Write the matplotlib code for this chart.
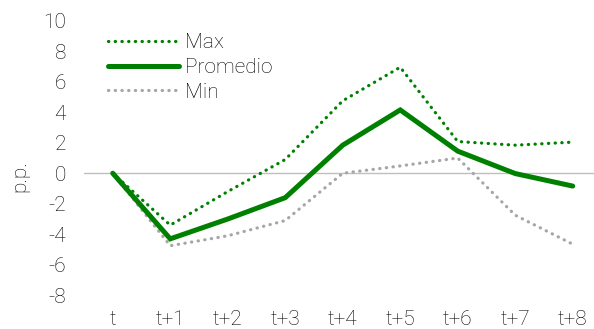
import matplotlib
matplotlib.use("Agg")
import matplotlib.pyplot as plt

categories = ["t", "t+1", "t+2", "t+3", "t+4", "t+5", "t+6", "t+7", "t+8"]
max_vals = [0, -3.4, -1.2, 0.9, 4.75, 6.95, 2.08, 1.84, 2.04]
prom_vals = [0, -4.3, -3.0, -1.6, 1.84, 4.15, 1.45, -0.02, -0.84]
min_vals = [0, -4.75, -4.1, -3.1, 0.0, 0.48, 1.0, -2.75, -4.65]
yticks = [10, 8, 6, 4, 2, 0, -2, -4, -6, -8]

plt.rcParams['font.family'] = ['Roboto', 'DejaVu Sans']
FS = 15
TXT = "#000000"
WT = "light"
W, H = 594, 329
fig = plt.figure(figsize=(W / 100, H / 100), dpi=100)
x0, x1 = -0.5, 8.37
left_px = 84
right_px = 594
y_top, y_bot = 10.5, -8.6
top_px = 20.7 - 0.5 * 15.25
bot_px = 295.3 + 0.6 * 15.25
ax = fig.add_axes([left_px / W, 1 - bot_px / H, (right_px - left_px) / W, (bot_px - top_px) / H])

xs = list(range(len(categories)))
ax.axhline(0, color="#bfbfbf", lw=1.0, zorder=1)
green = "#008000"
ax.plot(xs, max_vals, color=green, lw=2.3, linestyle=(0, (0.1, 2.0)),
        dash_capstyle="round", label="Max", zorder=3)
ax.plot(xs, prom_vals, color=green, lw=3.6, solid_capstyle="round",
        solid_joinstyle="miter", label="Promedio", zorder=4)
ax.plot(xs, min_vals, color="#a6a6a6", lw=2.3, linestyle=(0, (0.1, 2.0)),
        dash_capstyle="round", label="Min", zorder=2)

ax.set_xlim(x0, x1)
ax.set_ylim(y_bot, y_top)
ax.set_xticks(xs)
ax.set_xticklabels(categories, fontsize=FS, color=TXT, fontweight=WT)
ax.set_yticks(yticks)
ax.set_yticklabels([str(v) for v in yticks], fontsize=FS, color=TXT, fontweight=WT)
ax.tick_params(axis="both", length=0)
ax.tick_params(axis="y", pad=13)
ax.tick_params(axis="x", pad=4)
for s in ax.spines.values():
    s.set_visible(False)

fig.text(20 / W, 1 - 176 / H, "p.p.", rotation=90, ha="center", va="center",
         fontsize=FS, color=TXT, fontweight=WT)

leg = ax.legend(loc="upper left",
                bbox_to_anchor=((108 - left_px) / (right_px - left_px), 1.0 - (33 - top_px) / (bot_px - top_px)),
                frameon=False, fontsize=FS, handlelength=3.4, handletextpad=0.3,
                labelspacing=0.28, borderaxespad=0, borderpad=0)
for t in leg.get_texts():
    t.set_color(TXT)
    t.set_fontweight(WT)

fig.savefig("out.png", dpi=100)
